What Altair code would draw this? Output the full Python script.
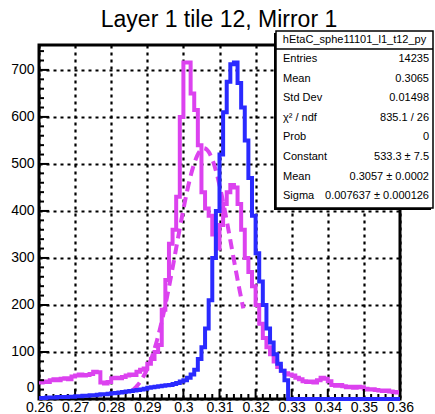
import altair as alt
import pandas as pd

# ---------------- data ----------------
x_start = 0.26
bin_width = 0.001
n_bins = 100

magenta_counts = [
    35, 37, 36, 40, 42, 40, 43, 44, 42, 48, 50, 52, 50, 51, 53, 58, 57,
    35, 33, 36,
    44, 45, 44, 47, 50, 52, 51, 58, 62, 65, 75, 85, 100, 115,
    190, 253, 330, 360, 430, 600, 716, 716, 650, 615, 540, 440, 405,
    390, 350, 320, 370, 415, 440, 455, 450, 415, 360, 300, 270, 240, 200, 160, 130, 110, 95, 80, 68, 60, 55,
    52, 50, 45, 42, 38, 36, 37, 35, 40, 45, 43, 38, 30, 28, 30, 27, 25, 26, 24, 26, 25, 22, 20, 21, 19,
    18, 17, 18, 16, 15, 14,
]
blue_counts = [
    2, 2, 3, 3, 3, 4, 4, 4, 5, 5, 6,
    6, 7, 7, 8, 8, 9, 10, 10, 11, 12,
    13, 14, 15, 16, 17, 18, 19, 20, 22, 24,
    25, 26, 27, 28, 29,
    30, 32, 34, 37, 40, 45, 52,
    62, 85, 110, 150, 210, 300, 400, 520, 610, 675, 712, 716,
    672, 620, 550, 470, 390, 310, 250, 200, 150, 120, 95, 75, 60, 40,
] + [0] * 31

fit_constant = 533.3
fit_mean = 0.3057
fit_sigma = 0.007637
fit_range = [0.286, 0.3166]

x_major = [0.26, 0.27, 0.28, 0.29, 0.30, 0.31, 0.32, 0.33, 0.34, 0.35, 0.36]
y_major = [0, 100, 200, 300, 400, 500, 600, 700]
y_max = 753

title_text = "Layer 1 tile 12, Mirror 1"
stats_header = "hEtaC_sphe11101_l1_t12_py"
stats_labels = ["Entries", "Mean", "Std Dev", "χ² / ndf", "Prob", "Constant", "Mean", "Sigma"]
stats_values = ["14235", "0.3065", "0.01498", "835.1 / 26", "0", "533.3 ± 7.5",
                "0.3057 ± 0.0002", "0.007637 ± 0.000126"]

MAGENTA = "#dc42ef"
BLUE = "#2a2aff"
FONT = "Liberation Sans"

W, H = 361, 354

edges = [round(x_start + i * bin_width, 3) for i in range(n_bins + 1)]
x_minor = [round(0.26 + 0.002 * i, 3) for i in range(51) if i % 5 != 0]
y_minor = [20 * i for i in range(38) if i % 5 != 0]


def step_df(counts):
    return pd.DataFrame({"x": edges, "y": list(counts) + [counts[-1]]})


xs = alt.Scale(domain=[0.26, 0.36], nice=False, zero=False)
ys = alt.Scale(domain=[0, y_max], nice=False)

x_axis = alt.Axis(values=x_major, format=".2~f", title=None, ticks=False, domain=False,
                  grid=True, gridColor="black", gridDash=[3, 4], gridWidth=2.2, gridOpacity=1,
                  labelFontSize=14, labelFont=FONT, labelColor="black", labelPadding=1,
                  labelOverlap=False, labelFlush=False, labelBound=False)
y_axis = alt.Axis(values=y_major, title=None, ticks=False, domain=False,
                  grid=True, gridColor="black", gridDash=[3, 4], gridWidth=2.2, gridOpacity=1,
                  labelFontSize=14, labelFont=FONT, labelColor="black", labelPadding=5,
                  labelOverlap=False, labelFlush=True, labelFlushOffset=-5)

X = lambda f: alt.X(f, scale=xs, axis=x_axis)
Y = lambda f: alt.Y(f, scale=ys, axis=y_axis)

magenta = alt.Chart(step_df(magenta_counts)).mark_line(
    color=MAGENTA, strokeWidth=4, interpolate="step-after"
).encode(x=X("x:Q"), y=Y("y:Q"))

fit = alt.Chart(alt.sequence(fit_range[0], fit_range[1], 0.0002, as_="x")).transform_calculate(
    y=f"{fit_constant}*exp(-0.5*pow((datum.x-{fit_mean})/{fit_sigma},2))"
).mark_line(color=MAGENTA, strokeWidth=4, strokeDash=[10, 6]).encode(x=X("x:Q"), y=Y("y:Q"))

blue = alt.Chart(step_df(blue_counts)).mark_line(
    color=BLUE, strokeWidth=4, interpolate="step-after"
).encode(x=X("x:Q"), y=Y("y:Q"))


# inner ticks (ROOT style)
def xticks(vals, length):
    return alt.Chart(pd.DataFrame({"x": vals})).mark_rule(color="black", strokeWidth=2).encode(
        x=X("x:Q"), y=alt.value(H), y2=alt.value(H - length))


def yticks(vals, length):
    return alt.Chart(pd.DataFrame({"y": vals})).mark_rule(color="black", strokeWidth=2).encode(
        y=Y("y:Q"), x=alt.value(0), x2=alt.value(length))


one = alt.Data(values=[{}])

# stats box geometry (relative to plot origin)
bx0, bx1, by0, by1 = 237, 394, -14, 163
shadow = alt.Chart(one).mark_rect(color="black").encode(
    x=alt.value(bx0 - 2), x2=alt.value(bx1 - 2), y=alt.value(by0 + 2), y2=alt.value(by1 + 2))
box = alt.Chart(one).mark_rect(fill="white", stroke="black", strokeWidth=1.5).encode(
    x=alt.value(bx0), x2=alt.value(bx1), y=alt.value(by0), y2=alt.value(by1))
sep = alt.Chart(one).mark_rule(color="black", strokeWidth=1.5).encode(
    x=alt.value(bx0), x2=alt.value(bx1), y=alt.value(4))
header = alt.Chart(one).mark_text(text=stats_header, font=FONT, fontSize=11, align="center",
                                  baseline="middle", color="black").encode(
    x=alt.value((bx0 + bx1) / 2), y=alt.value(-5))

text_layers = []
for i, (lab, val) in enumerate(zip(stats_labels, stats_values)):
    yy = 14 + i * 19.6
    text_layers.append(alt.Chart(one).mark_text(text=lab, font=FONT, fontSize=11, align="left",
                                                baseline="middle", color="black").encode(
        x=alt.value(bx0 + 7), y=alt.value(yy)))
    text_layers.append(alt.Chart(one).mark_text(text=val, font=FONT, fontSize=11, align="right",
                                                baseline="middle", color="black").encode(
        x=alt.value(bx1 - 4), y=alt.value(yy)))

title = alt.Chart(one).mark_text(text=title_text, font=FONT, fontSize=23, align="center",
                                 baseline="alphabetic", color="black").encode(
    x=alt.value(180), y=alt.value(-18))

chart = alt.layer(
    magenta, xticks(x_major, 10), xticks(x_minor, 5), yticks(y_major, 10), yticks(y_minor, 5),
    fit, blue, shadow, box, sep, header, *text_layers, title
).properties(
    width=W, height=H, autosize="none",
    padding={"left": 39, "top": 45, "right": 35, "bottom": 15},
    background="white",
).configure_view(stroke="black", strokeWidth=3)

chart.save("out.html", embed_options={"renderer": "svg", "actions": False})
